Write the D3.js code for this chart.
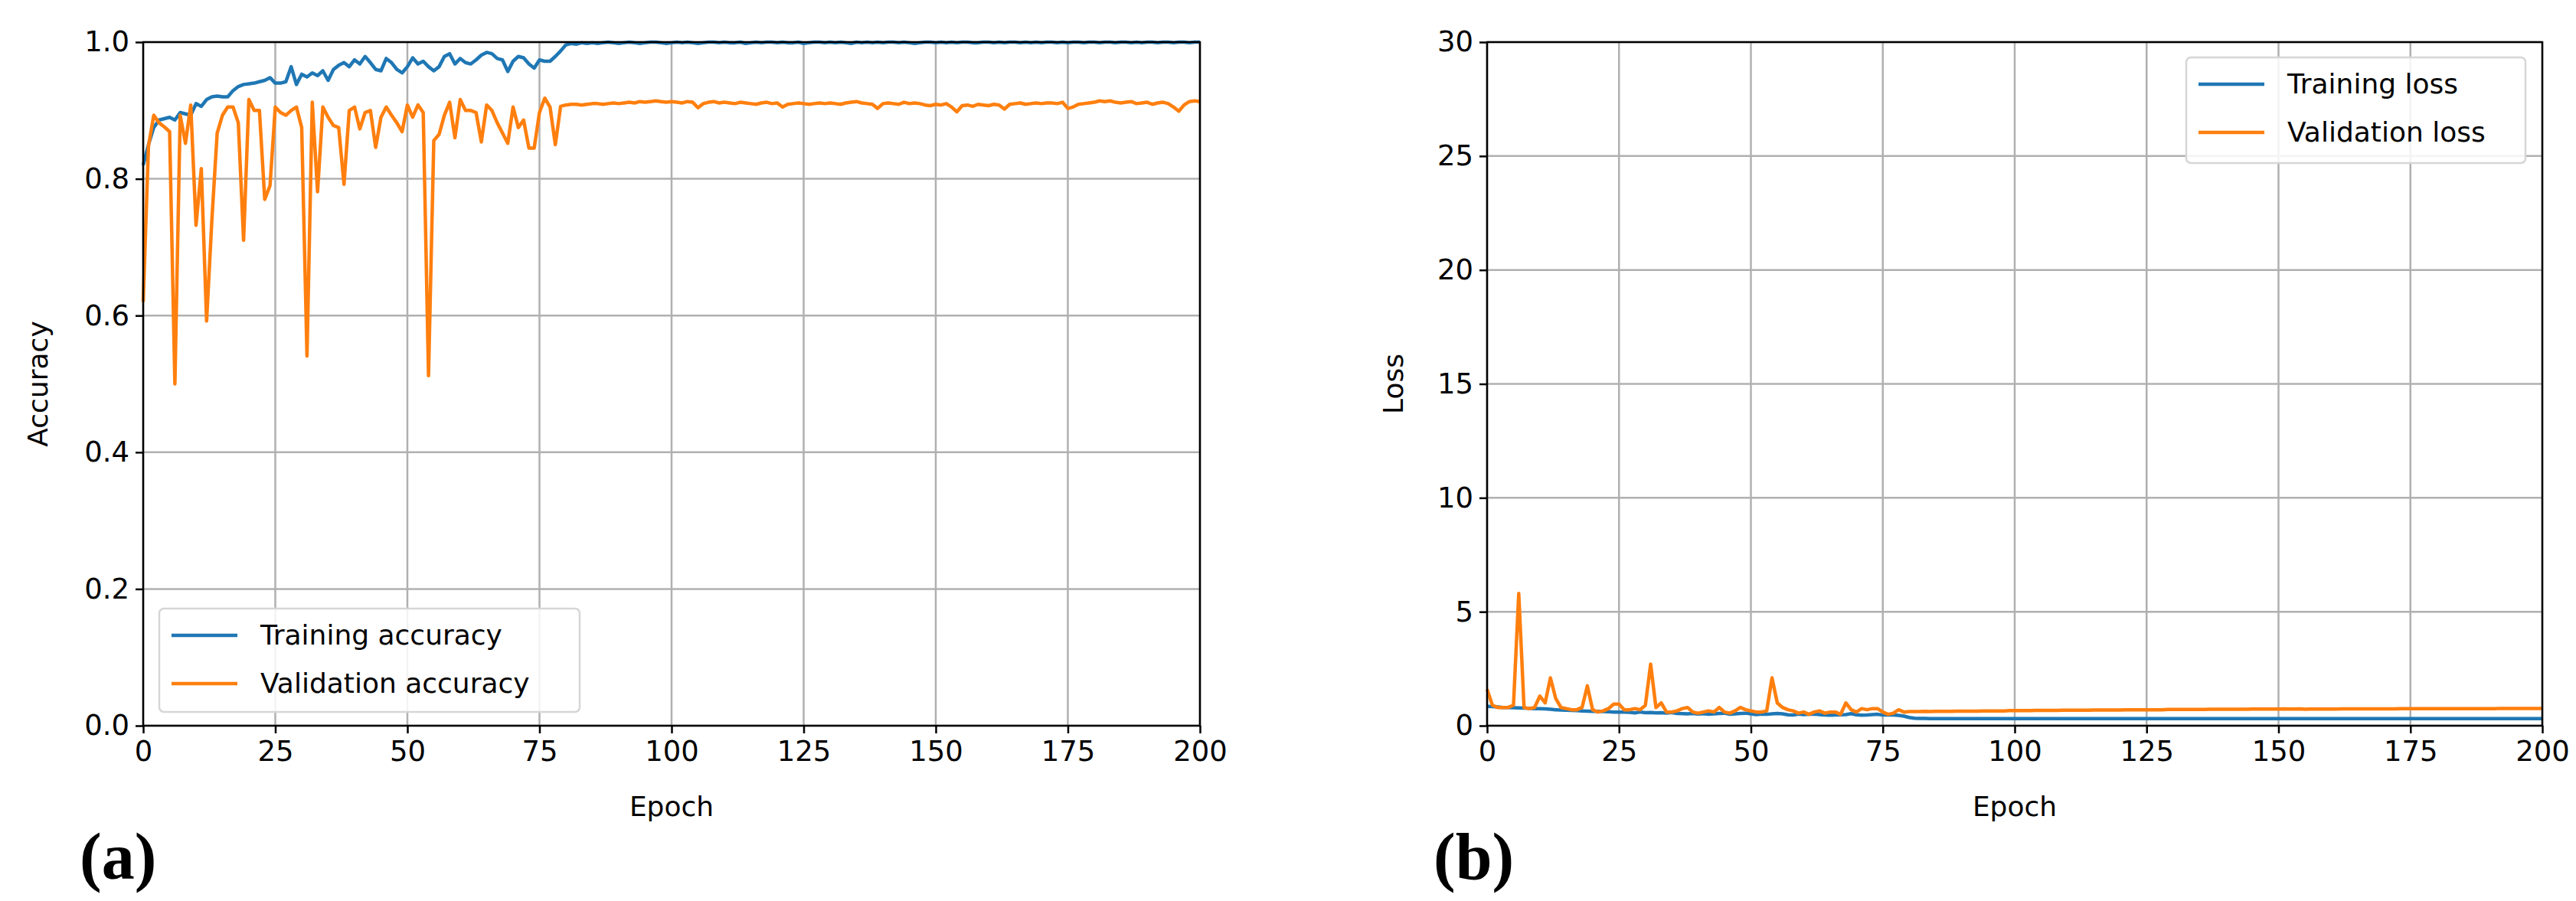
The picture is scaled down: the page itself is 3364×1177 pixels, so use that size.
<!DOCTYPE html>
<html>
<head>
<meta charset="utf-8">
<script src="https://cdn.jsdelivr.net/npm/d3@7"></script>
<style>
body { margin: 0; background: #fff; }
</style>
</head>
<body>
<script>
var w = 3364;
var h = 1177;

// epochs 0..200
var trainAcc = [
 .820,.850,.875,.886,.888,.890,.886,.897,.895,.893,
 .910,.906,.916,.920,.921,.920,.920,.929,.935,.938,
 .939,.940,.942,.944,.948,.940,.940,.942,.964,.938,
 .953,.949,.955,.951,.958,.944,.960,.966,.970,.964,
 .974,.968,.979,.970,.960,.958,.976,.970,.960,.955,
 .964,.977,.968,.972,.964,.958,.964,.979,.983,.968,
 .976,.970,.968,.974,.981,.985,.983,.976,.974,.957,
 .972,.979,.977,.968,.962,.974,.972,.972,.979,.987,
 .996,.998,.997,.999,.998,.999,.998,.999,1.0,.999,
 .998,.999,1.0,.999,.998,.999,1.0,1.0,.999,.998,
 .999,1.0,.999,1.0,.999,.998,.999,1.0,1.0,.999,
 1.0,.999,.999,1.0,.998,.999,1.0,.999,1.0,1.0,
 .999,1.0,.999,.999,1.0,.998,.999,1.0,1.0,.999,
 1.0,.999,1.0,.999,.998,1.0,.999,1.0,.999,1.0,
 .999,1.0,1.0,.999,1.0,.999,.998,.999,1.0,1.0,
 .999,1.0,.999,1.0,.999,1.0,1.0,.999,.999,1.0,
 1.0,.999,1.0,.999,1.0,1.0,.999,1.0,.999,1.0,
 .999,1.0,1.0,.999,1.0,.999,1.0,1.0,.999,1.0,
 1.0,.999,1.0,1.0,.999,1.0,1.0,.999,1.0,.999,
 1.0,1.0,.999,1.0,1.0,.999,1.0,1.0,.999,1.0,
 1.0];

var valAcc = [
 .620,.848,.893,.882,.876,.869,.500,.893,.852,.908,
 .732,.815,.592,.740,.867,.893,.905,.905,.882,.710,
 .916,.900,.900,.770,.790,.905,.897,.893,.900,.905,
 .875,.541,.912,.781,.905,.890,.878,.875,.792,.900,
 .905,.873,.897,.900,.846,.890,.905,.893,.882,.869,
 .908,.890,.908,.897,.512,.856,.865,.893,.912,.860,
 .916,.900,.900,.897,.854,.908,.900,.882,.867,.852,
 .905,.875,.886,.845,.845,.897,.918,.905,.850,.906,
 .908,.909,.909,.908,.909,.910,.910,.909,.910,.911,
 .910,.911,.912,.911,.913,.912,.913,.914,.913,.912,
 .913,.912,.911,.913,.912,.904,.910,.912,.913,.911,
 .912,.911,.910,.912,.911,.910,.909,.911,.912,.910,
 .911,.905,.909,.910,.911,.910,.909,.910,.911,.910,
 .911,.910,.909,.911,.912,.913,.911,.910,.909,.903,
 .910,.911,.910,.909,.912,.910,.911,.910,.908,.907,
 .909,.908,.910,.905,.898,.907,.908,.906,.909,.908,
 .907,.909,.908,.902,.909,.910,.911,.909,.910,.911,
 .910,.911,.911,.910,.912,.903,.905,.909,.910,.911,
 .912,.914,.913,.914,.912,.911,.912,.913,.910,.911,
 .912,.909,.911,.912,.910,.905,.899,.908,.913,.914,
 .913];

var trainLoss = [
 .85,.84,.82,.80,.80,.79,.78,.77,.76,.75,
 .75,.74,.72,.70,.69,.68,.67,.66,.65,.64,
 .63,.63,.62,.61,.60,.60,.60,.59,.56,.60,
 .57,.58,.56,.57,.55,.58,.54,.53,.52,.54,
 .51,.53,.50,.52,.54,.55,.50,.52,.54,.55,
 .52,.49,.51,.50,.52,.54,.52,.48,.47,.51,
 .49,.50,.51,.49,.47,.46,.47,.48,.49,.53,
 .48,.46,.47,.49,.50,.47,.47,.47,.45,.42,
 .36,.33,.32,.32,.31,.31,.31,.31,.31,.31,
 .31,.31,.31,.31,.31,.31,.31,.31,.31,.31,
 .31,.31,.31,.31,.31,.31,.31,.31,.31,.31,
 .31,.31,.31,.31,.31,.31,.31,.31,.31,.31,
 .31,.31,.31,.31,.31,.31,.31,.31,.31,.31,
 .31,.31,.31,.31,.31,.31,.31,.31,.31,.31,
 .31,.31,.31,.31,.31,.31,.31,.31,.31,.31,
 .31,.31,.31,.31,.31,.31,.31,.31,.31,.31,
 .31,.31,.31,.31,.31,.31,.31,.31,.31,.31,
 .31,.31,.31,.31,.31,.31,.31,.31,.31,.31,
 .31,.31,.31,.31,.31,.31,.31,.31,.31,.31,
 .31,.31,.31,.31,.31,.31,.31,.31,.31,.31,
 .31];

var valLoss = [
 1.6,.90,.80,.80,.80,.90,5.8,.80,.75,.80,
 1.3,1.0,2.1,1.2,.80,.75,.70,.70,.80,1.75,
 .70,.60,.65,.75,.95,.95,.70,.70,.75,.70,
 .90,2.7,.80,1.0,.60,.60,.65,.75,.80,.60,
 .55,.60,.65,.60,.80,.60,.55,.65,.80,.70,
 .65,.60,.60,.65,2.1,1.0,.80,.70,.65,.55,
 .60,.50,.60,.65,.55,.60,.60,.50,1.0,.70,
 .60,.75,.70,.75,.75,.60,.50,.55,.70,.60,
 .62,.62,.62,.63,.62,.63,.63,.63,.63,.64,
 .64,.64,.64,.64,.65,.65,.65,.65,.65,.66,
 .66,.66,.66,.66,.67,.67,.67,.67,.67,.68,
 .68,.68,.68,.68,.68,.69,.69,.69,.69,.69,
 .69,.70,.70,.70,.70,.70,.70,.70,.70,.71,
 .71,.71,.71,.71,.71,.71,.71,.72,.72,.72,
 .72,.72,.72,.72,.72,.73,.73,.73,.73,.73,
 .73,.74,.73,.73,.74,.72,.73,.73,.73,.73,
 .73,.73,.74,.74,.74,.74,.74,.74,.74,.74,
 .74,.74,.74,.75,.75,.75,.75,.75,.75,.75,
 .75,.75,.75,.75,.75,.75,.75,.75,.75,.75,
 .75,.75,.76,.76,.76,.76,.76,.76,.76,.76,
 .76];

var xTicks = [0, 25, 50, 75, 100, 125, 150, 175, 200];
var accTicks = [0, 0.2, 0.4, 0.6, 0.8, 1.0];
var lossTicks = [0, 5, 10, 15, 20, 25, 30];

var blue = "#1f77b4";
var orange = "#ff7f0e";
var sans = "'DejaVu Sans', sans-serif";

var svg = d3.select("body")
	.append("svg")
	.attr("width", w)
	.attr("height", h)
	.style("font-family", sans);

function panel(left, right, yMax, yTicks, yFmt, yLabel, yLabelX, series, names, legendBox, tag, tagX) {
	var top = 55, bottom = 948;
	var x = d3.scaleLinear().domain([0, 200]).range([left, right]);
	var y = d3.scaleLinear().domain([0, yMax]).range([bottom, top]);
	var g = svg.append("g");

	// grid
	g.selectAll(".vg").data(xTicks).enter().append("line")
		.attr("x1", function(d) { return x(d); })
		.attr("x2", function(d) { return x(d); })
		.attr("y1", top).attr("y2", bottom)
		.attr("stroke", "#b0b0b0").attr("stroke-width", 2.5);
	g.selectAll(".hg").data(yTicks).enter().append("line")
		.attr("y1", function(d) { return y(d); })
		.attr("y2", function(d) { return y(d); })
		.attr("x1", left).attr("x2", right)
		.attr("stroke", "#b0b0b0").attr("stroke-width", 2.5);

	var line = d3.line()
		.x(function(d, i) { return x(i); })
		.y(function(d) { return y(d); });
	var clr = [blue, orange];
	series.forEach(function(s, k) {
		g.append("path").datum(s)
			.attr("d", line)
			.attr("fill", "none")
			.attr("stroke", clr[k])
			.attr("stroke-width", 4.5)
			.attr("stroke-linejoin", "round");
	});

	// frame
	g.append("rect")
		.attr("x", left).attr("y", top)
		.attr("width", right - left).attr("height", bottom - top)
		.attr("fill", "none").attr("stroke", "#000").attr("stroke-width", 2.5);

	var xAxis = g.append("g")
		.attr("transform", "translate(0," + bottom + ")")
		.call(d3.axisBottom(x).tickValues(xTicks).tickSize(10).tickPadding(10));
	var yAxis = g.append("g")
		.attr("transform", "translate(" + left + ",0)")
		.call(d3.axisLeft(y).tickValues(yTicks).tickFormat(yFmt).tickSize(10).tickPadding(8));
	[xAxis, yAxis].forEach(function(a) {
		a.select(".domain").remove();
		a.selectAll("line").attr("stroke", "#000").attr("stroke-width", 2.5);
		a.selectAll("text").attr("font-size", "37px").attr("fill", "#000")
			.attr("font-family", sans);
	});

	g.append("text")
		.attr("x", (left + right) / 2).attr("y", 1066)
		.attr("text-anchor", "middle").attr("font-size", "36px")
		.text("Epoch");
	g.append("text")
		.attr("transform", "translate(" + yLabelX + "," + (top + bottom) / 2 + ") rotate(-90)")
		.attr("text-anchor", "middle").attr("font-size", "36px")
		.text(yLabel);

	// legend
	var lb = legendBox;
	g.append("rect")
		.attr("x", lb[0]).attr("y", lb[1]).attr("width", lb[2]).attr("height", lb[3])
		.attr("rx", 6).attr("fill", "#fff").attr("fill-opacity", 0.85)
		.attr("stroke", "#d6d6d6").attr("stroke-width", 2.5);
	names.forEach(function(n, k) {
		var ly = lb[1] + 35 + k * 63;
		g.append("line")
			.attr("x1", lb[0] + 16).attr("x2", lb[0] + 102)
			.attr("y1", ly).attr("y2", ly)
			.attr("stroke", clr[k]).attr("stroke-width", 4.5);
		g.append("text")
			.attr("x", lb[0] + 132).attr("y", ly + 12)
			.attr("font-size", "36px")
			.text(n);
	});

	svg.append("text")
		.attr("x", tagX).attr("y", 1148)
		.style("font-family", "'Liberation Serif', 'DejaVu Serif', serif")
		.attr("font-weight", "bold").attr("font-size", "86px")
		.text(tag);
}

panel(187, 1567, 1.0, accTicks, d3.format(".1f"), "Accuracy", 62,
	[trainAcc, valAcc], ["Training accuracy", "Validation accuracy"],
	[208, 795, 549, 135], "(a)", 104);

panel(1942, 3320, 30, lossTicks, d3.format("d"), "Loss", 1832,
	[trainLoss, valLoss], ["Training loss", "Validation loss"],
	[2855, 75, 443, 138], "(b)", 1872);
</script>
</body>
</html>
